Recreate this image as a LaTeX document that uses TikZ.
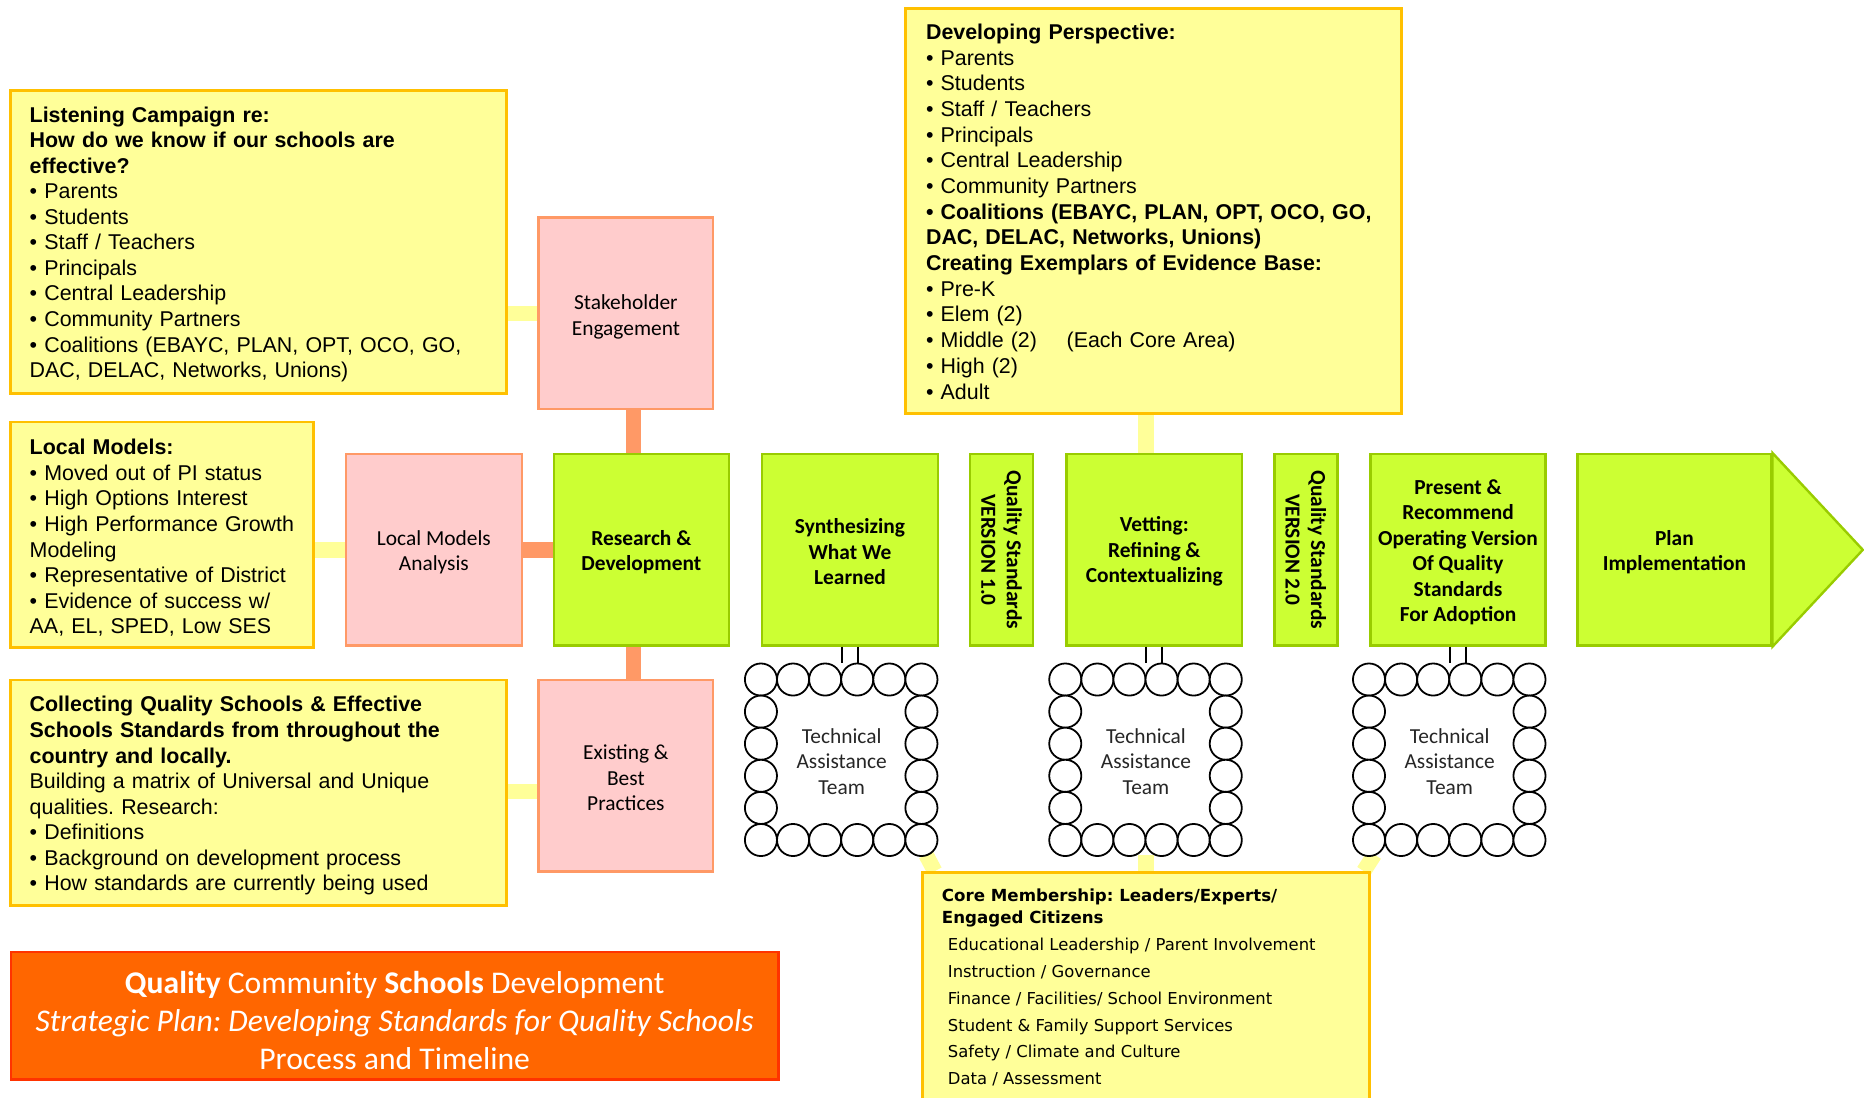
\documentclass[tikz,border=0pt]{standalone}
\usepackage{fontspec}
\setmainfont{Liberation Sans}
\newfontfamily\calibri{Carlito}
\newfontfamily\verdana{DejaVu Sans}
\usetikzlibrary{fit,calc,backgrounds}
\definecolor{yfill}{HTML}{FFFF99}
\definecolor{yline}{HTML}{FFC000}
\definecolor{pfill}{HTML}{FFCCCC}
\definecolor{pline}{HTML}{FF9966}
\definecolor{gfill}{HTML}{CCFF33}
\definecolor{gline}{HTML}{99CC00}
\definecolor{ofill}{HTML}{FF6600}
\definecolor{oline}{HTML}{FF3300}
\frenchspacing
\begin{document}
\begin{tikzpicture}[x=0.5pt,y=-0.5pt,
  ybox/.style={draw=yline, fill=yfill, line width=1.2pt, inner sep=0pt},
  ytext/.style={inner sep=0pt, align=left, font=\fontsize{9pt}{10.75pt}\selectfont},
  pbox/.style={draw=pline, fill=pfill, line width=1pt, inner sep=0pt},
  ptext/.style={inner sep=0pt, align=center, font=\calibri\fontsize{9pt}{10.75pt}\selectfont},
  gbox/.style={draw=gline, fill=gfill, line width=1pt, inner sep=0pt},
  gtext/.style={inner sep=0pt, align=center, font=\calibri\bfseries\fontsize{9pt}{10.75pt}\selectfont},
  gtri/.style={draw=gline, fill=gfill, line width=1pt, line join=miter},
  qstext/.style={rotate=-90, inner sep=0pt, align=center,
    font=\calibri\bfseries\fontsize{9pt}{10.75pt}\selectfont},
  titlebox/.style={draw=oline, fill=ofill, line width=1pt, inner sep=0pt},
  titletext/.style={inner sep=0pt, align=center, text=white,
    font=\calibri\fontsize{13.3pt}{16pt}\selectfont},
  tateam/.style={inner sep=0pt},
  tatext/.style={inner sep=0pt, align=center, text=black!85,
    font=\calibri\fontsize{9pt}{10.75pt}\selectfont},
  tacirc/.style={draw=black, line width=0.75pt, fill=white},
  talink/.style={draw=black, line width=0.75pt},
  yconn/.style={draw=yfill, line width=6.5pt},
  oconn/.style={draw=pline, line width=6.5pt},
  corehead/.style={anchor=north west, inner sep=0pt, align=left,
    font=\verdana\bfseries\fontsize{7pt}{9.5pt}\selectfont},
  corelist/.style={anchor=north west, inner sep=0pt, align=left,
    font=\verdana\fontsize{6.9pt}{11.25pt}\selectfont}
]
\useasboundingbox (0,0) rectangle (1568,923);
\clip (0,0) rectangle (1568,923);

% yellow text boxes
\node[ybox, fit={(9,76) (426,331)}] (listen) {};
\node[ytext, text width=192.5pt] (listent) at ([yshift=-1pt]listen.center) {%
\textbf{Listening Campaign re:}\\
\textbf{How do we know if our schools are}\\
\textbf{effective?}\\
• Parents\\
• Students\\
• Staff / Teachers\\
• Principals\\
• Central Leadership\\
• Community Partners\\
• Coalitions (EBAYC, PLAN, OPT, OCO, GO,\\
DAC, DELAC, Networks, Unions)};

\node[ybox, fit={(9,355) (264,545)}] (lmy) {};
\node[ytext, text width=111.5pt] (lmyt) at ([yshift=-1.25pt]lmy.center) {%
\textbf{Local Models:}\\
• Moved out of PI status\\
• High Options Interest\\
• High Performance Growth\\
Modeling\\
• Representative of District\\
• Evidence of success w/\\
AA, EL, SPED, Low SES};

\node[ybox, fit={(9,572) (426,762)}] (coll) {};
\node[ytext, text width=192.5pt] (collt) at ([yshift=-1.25pt]coll.center) {%
\textbf{Collecting Quality Schools \& Effective}\\
\textbf{Schools Standards from throughout the}\\
\textbf{country and locally.}\\
Building a matrix of Universal and Unique\\
qualities. Research:\\
• Definitions\\
• Background on development process\\
• How standards are currently being used};

\node[ybox, fit={(762,7) (1179,348)}] (dev) {};
\node[ytext, text width=191.5pt, font=\fontsize{9pt}{10.8pt}\selectfont] (devt)
  at ([yshift=-0.25pt]dev.center) {%
\textbf{Developing Perspective:}\\
• Parents\\
• Students\\
• Staff / Teachers\\
• Principals\\
• Central Leadership\\
• Community Partners\\
\textbf{• Coalitions (EBAYC, PLAN, OPT, OCO, GO,}\\
\textbf{DAC, DELAC, Networks, Unions)}\\
\textbf{Creating Exemplars of Evidence Base:}\\
• Pre-K\\
• Elem (2)\\
• Middle (2)\hspace*{12.5pt}(Each Core Area)\\
• High (2)\\
• Adult};

% title
\node[titlebox, fit={(9,801) (655,908)}] (title) {};
\node[titletext] (titlet) at ([yshift=-2pt]title.center) {%
\textbf{Quality} Community \textbf{Schools} Development\\
\textit{Strategic Plan: Developing Standards for Quality Schools}\\
Process and Timeline};

% pink boxes
\node[pbox, fit={(453,183) (600,344)}] (stake) {};
\node[ptext] (staket) at ([yshift=-1.5pt]stake.center) {Stakeholder\\Engagement};
\node[pbox, fit={(291,382) (439,543)}] (lma) {};
\node[ptext] (lmat) at ([yshift=-1pt]lma.center) {Local Models\\Analysis};
\node[pbox, fit={(453,572) (600,733)}] (exist) {};
\node[ptext] (existt) at ([yshift=-1pt]exist.center) {Existing \&\\Best\\Practices};

% green process boxes
\node[gbox, fit={(466,382) (613,543)}] (rd) {};
\node[gtext] (rdt) at ([yshift=-1pt]rd.center) {Research \&\\Development};
\node[gbox, fit={(641,382) (789,543)}] (synth) {};
\node[gtext] (syntht) at ([yshift=-0.75pt]synth.center) {Synthesizing\\What We\\Learned};
\node[gbox, fit={(816,382) (869,543)}] (qs1) {};
\node[qstext] (qs1t) at (qs1.center) {Quality Standards\\VERSION 1.0};
\node[gbox, fit={(897,382) (1045,543)}] (vet) {};
\node[gtext] (vett) at ([yshift=-0.75pt]vet.center) {Vetting:\\Refining \&\\Contextualizing};
\node[gbox, fit={(1072,382) (1125,543)}] (qs2) {};
\node[qstext] (qs2t) at (qs2.center) {Quality Standards\\VERSION 2.0};
\node[gbox, fit={(1153,382) (1300,543)}] (pres) {};
\node[gtext] (prest) at ([yshift=-1pt]pres.center) {Present \&\\Recommend\\Operating Version\\Of Quality\\Standards\\For Adoption};
\node[gbox, fit={(1327,382) (1490,543)}] (plan) {};
\node[gtext] (plant) at ([yshift=-1pt]plan.center) {Plan\\Implementation};
\draw[gtri] (plan.north east) -- (1567,462.5) -- (plan.south east) -- cycle;

% technical assistance teams
\node[tateam, fit={(627,558.5) (789,720.5)}] (ta1) {};
\node[tateam, fit={(883,558.5) (1045,720.5)}] (ta2) {};
\node[tateam, fit={(1138.5,558.5) (1300.5,720.5)}] (ta3) {};

% core membership box
\node[ybox, fit={(776,734) (1152,950)}] (core) {};
\node[corehead] (coreh) at (792,747) {Core Membership: Leaders/Experts/\\Engaged Citizens};
\node[corelist] (corel) at (797,789) {Educational Leadership / Parent Involvement\\
Instruction / Governance\\
Finance / Facilities/ School Environment\\
Student \& Family Support Services\\
Safety / Climate and Culture\\
Data / Assessment};

% links from process boxes to teams
\draw[talink] (synth.south -| ta1.north) -- (ta1.north);
\draw[talink] ($(synth.south -| ta1.north)+(13.5,0)$) -- ($(ta1.north)+(13.5,0)$);
\draw[talink] (vet.south -| ta2.north) -- (ta2.north);
\draw[talink] ($(vet.south -| ta2.north)+(13.5,0)$) -- ($(ta2.north)+(13.5,0)$);
\draw[talink] (pres.south -| ta3.north) -- (ta3.north);
\draw[talink] ($(pres.south -| ta3.north)+(13.5,0)$) -- ($(ta3.north)+(13.5,0)$);

\foreach \t in {ta1,ta2,ta3}{
  \foreach \i in {0,...,5}{
    \draw[tacirc] ($(\t.north west)+(13.5+27*\i,13.5)$) circle[radius=6.75pt];
    \draw[tacirc] ($(\t.north west)+(13.5+27*\i,148.5)$) circle[radius=6.75pt];
  }
  \foreach \j in {1,...,4}{
    \draw[tacirc] ($(\t.north west)+(13.5,13.5+27*\j)$) circle[radius=6.75pt];
    \draw[tacirc] ($(\t.north west)+(148.5,13.5+27*\j)$) circle[radius=6.75pt];
  }
}
\node[tatext] (ta1t) at ([yshift=-0.5pt]ta1.center) {Technical\\Assistance\\Team};
\node[tatext] (ta2t) at ([yshift=-0.5pt]ta2.center) {Technical\\Assistance\\Team};
\node[tatext] (ta3t) at ([yshift=-0.5pt]ta3.center) {Technical\\Assistance\\Team};

\coordinate (ox) at (533,0);
\coordinate (cy) at (0,666);

\begin{pgfonlayer}{background}
  \draw[yconn] (listen.east |- stake.west) -- (stake.west);
  \draw[yconn] (lmy.east |- lma.west) -- (lma.west);
  \draw[yconn] (coll.east |- cy) -- (exist.west |- cy);
  \draw[oconn] (lma.east) -- (rd.west);
  \draw[oconn] (stake.south -| ox) -- (rd.north -| ox);
  \draw[oconn] (rd.south -| ox) -- (exist.north -| ox);
  \draw[yconn] (dev.south -| ta2.north) -- (vet.north -| ta2.north);
  \draw[yconn] ($(ta1.south east)+(-10.5,-2)$) -- ($(core.north west)+(11.5,0)$);
  \draw[yconn] ($(ta2.south)+(0,-2)$) -- (ta2.south |- core.north);
  \draw[yconn] ($(ta3.south west)+(18,-2)$) -- ($(core.north east)+(-6,0)$);
\end{pgfonlayer}
\end{tikzpicture}
\end{document}
